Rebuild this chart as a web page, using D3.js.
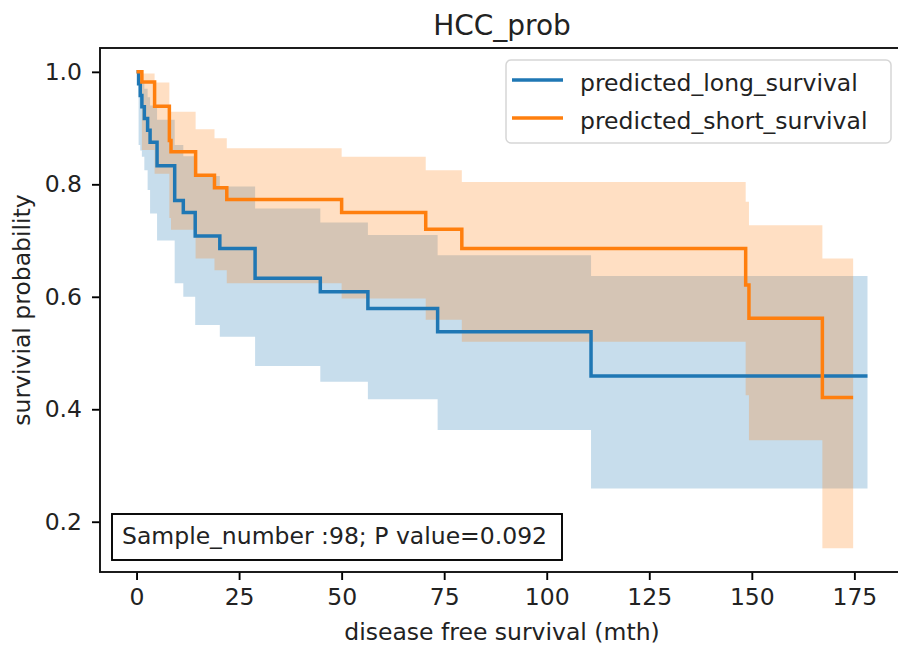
<!DOCTYPE html>
<html>
<head>
<meta charset="utf-8">
<script src="https://cdn.jsdelivr.net/npm/d3@7"></script>
<style>
	body { margin: 0; background: #fff; }
	text { font-family: "DejaVu Sans", sans-serif; fill: #222; }
</style>
</head>
<body>
<div id="g-container"></div>
<script>
	// predicted_long_survival (blue)
	var longTimes = [0, 0.5, 0.9, 1.3, 1.9, 2.7, 3.3, 5.0, 9.3, 11.4, 14.3, 20.3, 28.9, 44.8, 56.4, 73.4, 110.8, 178.2]
	var longSurv  = [1, .979, .958, .938, .917, .896, .875, .833, .771, .750, .708, .686, .633, .609, .579, .538, .459, .459]
	var longLower = [1, .87, .86, .849, .825, .790, .748, .700, .624, .600, .550, .529, .477, .449, .418, .363, .259, .259]
	var longUpper = [1, .997, .99, .98, .97, .955, .94, .915, .87, .85, .815, .796, .757, .732, .71, .674, .637, .637]

	// predicted_short_survival (orange)
	var shortTimes = [0, 1.3, 4.4, 8.0, 8.4, 14.4, 19.0, 22.0, 50.0, 70.5, 79.3, 148.5, 149.3, 167.2, 174.7]
	var shortSurv  = [1, .982, .939, .878, .858, .816, .794, .773, .750, .720, .686, .621, .562, .421, .421]
	var shortLower = [1, .861, .819, .74, .719, .668, .647, .624, .597, .559, .52, .425, .345, .153, .153]
	var shortUpper = [1, .997, .981, .94, .929, .898, .882, .864, .849, .825, .804, .769, .727, .668, .668]

	var seriesNames = ["predicted_long_survival", "predicted_short_survival"]
	var seriesColors = ["#1f77b4", "#ff7f0e"]
	var xTicks = [0, 25, 50, 75, 100, 125, 150, 175]
	var yTicks = [0.2, 0.4, 0.6, 0.8, 1.0]
	var title = "HCC_prob"
	var xLabel = "disease free survival (mth)"
	var yLabel = "survivial probability"
	var note = "Sample_number :98; P value=0.092"

	var svg_width = 898, svg_height = 650
	var m = {left: 100, right: 904, top: 48, bottom: 572}

	var svg = d3.select("#g-container").append("svg").attr("width", svg_width).attr("height", svg_height)

	var x = d3.scaleLinear().domain([-8.91, 187.1]).range([m.left, m.right])
	var y = d3.scaleLinear().domain([0.1106, 1.0424]).range([m.bottom, m.top])

	function rows(t, s, lo, hi){
		return t.map(function(d, i){ return {t: d, s: s[i], lo: lo[i], hi: hi[i]} })
	}
	var groups = [
		rows(longTimes, longSurv, longLower, longUpper),
		rows(shortTimes, shortSurv, shortLower, shortUpper)
	]

	var line = d3.line().curve(d3.curveStepAfter).x(function(d){ return x(d.t) }).y(function(d){ return y(d.s) })
	var area = d3.area().curve(d3.curveStepAfter).x(function(d){ return x(d.t) })
		.y0(function(d){ return y(d.lo) }).y1(function(d){ return y(d.hi) })

	svg.append("clipPath").attr("id", "plot-clip").append("rect")
		.attr("x", m.left).attr("y", m.top).attr("width", m.right - m.left).attr("height", m.bottom - m.top)

	var plot = svg.append("g").attr("clip-path", "url(#plot-clip)")

	// bands sit under all lines (matplotlib zorder)
	groups.forEach(function(g, i){
		plot.append("path").datum(g).attr("d", area)
			.attr("fill", seriesColors[i]).attr("fill-opacity", 0.25).attr("stroke", "none")
	})
	groups.forEach(function(g, i){
		plot.append("path").datum(g).attr("d", line)
			.attr("fill", "none").attr("stroke", seriesColors[i]).attr("stroke-width", 3.5)
	})

	var xAxis = svg.append("g").attr("transform", "translate(0," + m.bottom + ")")
		.call(d3.axisBottom(x).tickValues(xTicks).tickSize(8).tickPadding(8).tickFormat(d3.format("d")))
	var yAxis = svg.append("g").attr("transform", "translate(" + m.left + ",0)")
		.call(d3.axisLeft(y).tickValues(yTicks).tickSize(8).tickPadding(10).tickFormat(d3.format(".1f")))

	;[xAxis, yAxis].forEach(function(a){
		a.select(".domain").remove()
		a.selectAll(".tick line").attr("stroke", "#000").attr("stroke-width", 1.9)
		a.selectAll(".tick text").style("font-size", "23.5px").attr("fill", "#222")
	})

	svg.append("rect")
		.attr("x", m.left).attr("y", m.top).attr("width", m.right - m.left).attr("height", m.bottom - m.top)
		.attr("fill", "none").attr("stroke", "#111").attr("stroke-width", 1.9)

	svg.append("text").attr("x", (m.left + m.right) / 2).attr("y", 35)
		.attr("text-anchor", "middle").style("font-size", "28px").text(title)

	svg.append("text").attr("x", (m.left + m.right) / 2).attr("y", 640)
		.attr("text-anchor", "middle").style("font-size", "23.5px").text(xLabel)

	svg.append("text").attr("transform", "translate(30," + ((m.top + m.bottom) / 2) + ") rotate(-90)")
		.attr("text-anchor", "middle").style("font-size", "23.5px").text(yLabel)

	// legend
	var legend = svg.append("g")
	legend.append("rect").attr("x", 506).attr("y", 60).attr("width", 385).attr("height", 83).attr("rx", 5)
		.attr("fill", "#fff").attr("fill-opacity", 0.8).attr("stroke", "#d6d6d6").attr("stroke-width", 1.5)
	seriesNames.forEach(function(name, i){
		var ly = 80 + i * 38
		legend.append("line").attr("x1", 512).attr("x2", 563).attr("y1", ly).attr("y2", ly)
			.attr("stroke", seriesColors[i]).attr("stroke-width", 3.5)
		legend.append("text").attr("x", 580).attr("y", ly + 11).style("font-size", "23.5px").text(name)
	})

	// sample / p-value box
	svg.append("rect").attr("x", 112).attr("y", 514).attr("width", 450).attr("height", 46)
		.attr("fill", "#fff").attr("stroke", "#000").attr("stroke-width", 1.9)
	svg.append("text").attr("x", 122).attr("y", 544).style("font-size", "23.5px").text(note)
</script>
</body>
</html>
